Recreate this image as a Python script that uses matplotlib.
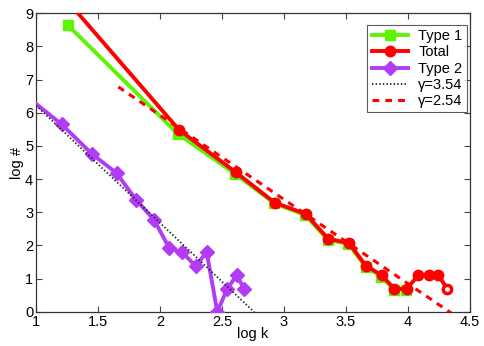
import matplotlib
matplotlib.use("Agg")
import matplotlib.pyplot as plt
import numpy as np

plt.rcParams['font.family'] = ['Liberation Sans', 'DejaVu Sans']

# Data (log k, log #)
type1_x = [1.258, 2.145, 2.605, 2.922, 3.172, 3.352, 3.520, 3.658, 3.786, 3.888, 3.988]
type1_y = [8.64, 5.36, 4.16, 3.27, 2.91, 2.17, 2.04, 1.36, 1.06, 0.67, 0.67]

total_x = [1.258, 2.152, 2.610, 2.925, 3.175, 3.357, 3.524, 3.660, 3.788, 3.890, 3.990, 4.083, 4.170, 4.245, 4.317]
total_y = [9.35, 5.49, 4.21, 3.29, 2.95, 2.20, 2.07, 1.39, 1.10, 0.69, 0.69, 1.10, 1.10, 1.10, 0.69]

type2_x = [0.90, 1.207, 1.454, 1.650, 1.806, 1.952, 2.075, 2.180, 2.290, 2.376, 2.462, 2.543, 2.618, 2.680]
type2_y = [6.57, 5.65, 4.75, 4.18, 3.38, 2.77, 1.92, 1.79, 1.37, 1.81, 0.00, 0.69, 1.10, 0.69]

# Power-law fit lines: slope = -gamma
gamma_a, icpt_a, xr_a = 3.54, 6.22, (1.0, 2.76)
gamma_b, icpt_b, xr_b = 2.54, 6.78, (1.664, 4.37)   # intercept at x = xr_b[0]

xticks = [1, 1.5, 2, 2.5, 3, 3.5, 4, 4.5]
yticks = list(range(0, 10))

fig = plt.figure(figsize=(4.85, 3.46), dpi=100)
ax = fig.add_axes([0.0742, 0.099, 0.8948, 0.8626])

green = '#5CF500'
red = '#FF0000'
purple = '#B23CF5'

ax.plot(type1_x, type1_y, '-s', color=green, lw=2.8, ms=7.5, mfc=green, mec=green, label='Type 1', zorder=2)
ax.plot(total_x, total_y, '-o', color=red, lw=2.8, ms=7.5, mfc=red, mec=red, label='Total', zorder=3)
ax.plot(total_x[-1:], total_y[-1:], 'o', color='white', ms=2.5, zorder=3.5)
ax.plot(type2_x, type2_y, '-D', color=purple, lw=2.8, ms=7, mfc=purple, mec=purple, label='Type 2', zorder=3)

xa = np.array(xr_a)
ax.plot(xa, icpt_a - gamma_a * (xa - xr_a[0]), color='#222222', lw=1.3,
        linestyle=(0, (0.8, 1.2)), label='\u03b3=3.54', zorder=4)
xb = np.array(xr_b)
ax.plot(xb, icpt_b - gamma_b * (xb - xr_b[0]), '--', color=red, lw=2.2,
        dashes=(2.2, 2.0), label='\u03b3=2.54', zorder=4)

ax.set_xlim(1, 4.5)
ax.set_ylim(0, 9)
ax.set_xticks(xticks)
ax.set_xticklabels(['1', '1.5', '2', '2.5', '3', '3.5', '4', '4.5'])
ax.set_yticks(yticks)
ax.tick_params(direction='in', top=True, right=True, length=4, width=0.8,
               labelsize=10.5, color='#444444', pad=2)
for s in ax.spines.values():
    s.set_color('#333333')
    s.set_linewidth(0.9)
ax.set_xlabel('log k', fontsize=10.5, labelpad=-1)
ax.set_ylabel('log #', fontsize=10.5, labelpad=1)

leg = ax.legend(loc='upper right', bbox_to_anchor=(0.993, 0.961), fontsize=10.5,
                frameon=True, fancybox=False,
                edgecolor='#333333', handlelength=2.5, handletextpad=0.7,
                labelspacing=0.15, borderpad=0.3, borderaxespad=0.0)
leg.get_frame().set_linewidth(0.8)

fig.savefig('out.png', dpi=100)
